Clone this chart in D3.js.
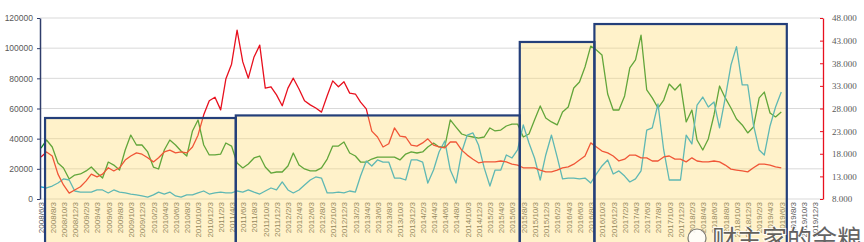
<!DOCTYPE html>
<html>
<head>
<meta charset="utf-8">
<script src="https://cdn.jsdelivr.net/npm/d3@7"></script>
<style>
  body { margin: 0; background: #fff; }
  svg { display: block; }
</style>
</head>
<body>
<div id="chart"></div>
<script>
// 每月数据，从 2008/6/3 开始
const startDate = "2008/6/3";

// 红线（右轴）
const redValues = [
  17.3, 18.4, 17.5, 13.5, 11.1, 9.3, 10.0, 10.7, 12.0, 13.5,
  12.9, 13.5, 14.9, 14.2, 14.9, 16.6, 17.5, 18.2, 17.9, 17.1,
  16.2, 17.1, 18.4, 18.8, 18.2, 18.4, 18.2, 19.5, 22.1, 26.6,
  29.7, 30.5, 27.7, 34.5, 37.8, 45.3, 38.3, 34.7, 39.4, 42.0,
  32.5, 32.8, 31.0, 28.6, 32.5, 34.7, 32.3, 29.7, 28.8, 28.1,
  27.2, 30.8, 34.1, 32.8, 33.9, 31.4, 31.2, 29.4, 27.9, 23.0,
  21.7, 19.5, 20.2, 23.7, 21.9, 21.7, 19.9, 19.7, 20.4, 21.3,
  19.9, 19.5, 19.3, 20.6, 20.6, 18.8, 17.7, 16.8, 16.0, 16.2,
  16.2, 16.2, 16.4, 16.2, 15.7, 15.5, 14.9, 14.9, 14.9, 14.4,
  14.0, 14.0, 14.4, 14.9, 15.1, 15.7, 16.6, 17.5, 20.4, 19.5,
  18.6, 18.2, 17.5, 16.4, 16.8, 17.7, 17.7, 17.1, 17.1, 16.4,
  16.4, 17.3, 17.5, 16.8, 16.8, 16.2, 17.1, 16.4, 16.2, 16.2,
  16.4, 16.2, 15.5, 14.6, 14.4, 14.2, 14.0, 14.9, 15.7, 15.7,
  15.5, 15.1, 14.9
];

// 绿线（左轴）
const greenValues = [
  33800, 39100, 34500, 23900, 20600, 13300, 15900, 16600, 18600, 21200,
  17200, 13900, 24500, 22500, 19200, 32500, 42400, 35800, 35800, 31200,
  21200, 19900, 32500, 39100, 35800, 31800, 28500, 45100, 52400, 35800,
  29200, 29200, 29800, 37100, 35100, 23900, 20600, 23200, 27200, 28500,
  21200, 17200, 17900, 17900, 21900, 30500, 22500, 19900, 18600, 18600,
  20600, 26500, 35100, 35100, 37800, 30500, 28500, 24500, 24500, 26500,
  27800, 27800, 27800, 27800, 25900, 29800, 31200, 30500, 31200, 34500,
  37100, 34500, 34500, 52400, 47700, 43100, 41800, 41100, 40400, 41100,
  47100, 45100, 45700, 48400, 49700, 49700, 41100, 43100, 52400, 61700,
  53700, 51100, 49100, 57700, 61000, 73600, 77600, 87500, 101400, 98800,
  95500, 69600, 59000, 59000, 68300, 86900, 92200, 108700, 72300, 67000,
  60300, 65600, 76200, 72300, 76200, 51100, 59000, 39100, 32500, 39800,
  55700, 74900, 67000, 60300, 53000, 49100, 43800, 47700, 67000, 70900,
  57000, 54400, 57700
];

// 青线（左轴）
const cyanValues = [
  8000, 7300, 8600, 10600, 13300, 12600, 5300, 4600, 4600, 4600,
  6000, 6000, 4000, 6000, 4600, 4000, 3300, 2700, 2000, 1300,
  2700, 4600, 3300, 4600, 2000, 1300, 2700, 2700, 4000, 5300,
  3300, 4000, 4600, 4000, 4000, 5300, 4600, 6000, 4600, 3300,
  5300, 7300, 6000, 11300, 6000, 4000, 6000, 9300, 12600, 14600,
  13900, 4000, 4000, 4600, 4000, 5300, 4600, 15200, 25200, 21900,
  25900, 24500, 24500, 13900, 13900, 12600, 25900, 25900, 24500, 10600,
  19200, 31200, 38500, 19200, 10600, 31200, 42400, 43800, 35800, 20600,
  8600, 19200, 19200, 29200, 27200, 32500, 49100, 37100, 27200, 12600,
  29200, 42400, 27800, 13300, 13900, 13900, 13300, 13900, 10600, 16600,
  21900, 25900, 16600, 18600, 15200, 11300, 13300, 18600, 45700, 47100,
  63000, 32500, 12600, 12600, 12600, 42400, 36500, 62300, 67600, 61000,
  64300, 47100, 67000, 88800, 101000, 75600, 75600, 49100, 32500, 29200,
  48400, 61000, 70900
];

const leftTicks = [0, 20000, 40000, 60000, 80000, 100000, 120000];
const rightTicks = [8, 13, 18, 23, 28, 33, 38, 43, 48];

// 黄色方框（阶段）
const periodStart = ["2008/6/25", "2011/4/26", "2015/7/15", "2016/8/23"];
const periodEnd = ["2011/4/26", "2015/7/15", "2016/8/23", "2019/7/3"];
const periodTop = [53700, 55400, 104100, 116000];

const width = 864;
const height = 242;

const parse = d3.timeParse("%Y/%m/%d");
const start = parse(startDate);
const dates = redValues.map((d, i) => d3.timeMonth.offset(start, i));
const tickDates = d3.range(0, 139, 2).map(i => d3.timeMonth.offset(start, i));

const x = d3.scaleTime()
  .domain([start, d3.timeMonth.offset(start, 138)])
  .range([41, 815]);
const yL = d3.scaleLinear().domain([0, 120000]).range([199, 18]);
const yR = d3.scaleLinear().domain([8, 48]).range([199, 18]);

const svg = d3.select("#chart").append("svg")
  .attr("width", width)
  .attr("height", height);

svg.append("rect").attr("width", width).attr("height", height).attr("fill", "#fff");

// 网格线
svg.append("g").selectAll("line")
  .data(leftTicks)
  .enter().append("line")
  .attr("x1", 40).attr("x2", 823)
  .attr("y1", d => yL(d)).attr("y2", d => yL(d))
  .attr("stroke", "#d9d9d9")
  .attr("stroke-width", 1);

// X 轴标签
const fmt = d3.timeFormat("%Y/%-m/%-d");
const xAxis = svg.append("g")
  .attr("transform", "translate(0,199)")
  .call(d3.axisBottom(x).tickValues(tickDates).tickFormat(fmt).tickSize(0));
xAxis.select(".domain").remove();
xAxis.selectAll("text")
  .attr("transform", "rotate(-90)")
  .attr("x", -3)
  .attr("y", 0)
  .attr("dy", "0.35em")
  .attr("text-anchor", "end")
  .attr("fill", "#595959")
  .style("font-family", "Liberation Sans, Arial, sans-serif")
  .style("font-size", "8px");

// 折线
const lineL = d3.line().x((d, i) => x(dates[i])).y(d => yL(d));
const lineR = d3.line().x((d, i) => x(dates[i])).y(d => yR(d));

svg.append("path").datum(greenValues)
  .attr("d", lineL).attr("fill", "none")
  .attr("stroke", "#0e8a22").attr("stroke-width", 1.3).attr("stroke-linejoin", "round");
svg.append("path").datum(cyanValues)
  .attr("d", lineL).attr("fill", "none")
  .attr("stroke", "#0aa6dc").attr("stroke-width", 1.3).attr("stroke-linejoin", "round");
svg.append("path").datum(redValues)
  .attr("d", lineR).attr("fill", "none")
  .attr("stroke", "#e8101e").attr("stroke-width", 1.3).attr("stroke-linejoin", "round");

// 半透明黄色方框
const boxes = periodStart.map((s, i) => ({
  x0: x(parse(s)), x1: x(parse(periodEnd[i])), top: yL(periodTop[i])
}));

svg.append("g").selectAll("rect")
  .data(boxes)
  .enter().append("rect")
  .attr("x", d => d.x0)
  .attr("y", d => d.top)
  .attr("width", d => d.x1 - d.x0)
  .attr("height", d => height + 10 - d.top)
  .attr("fill", "#ffd966")
  .attr("fill-opacity", 0.35);

svg.append("g").selectAll("rect")
  .data(boxes)
  .enter().append("rect")
  .attr("x", d => d.x0)
  .attr("y", d => d.top)
  .attr("width", d => d.x1 - d.x0)
  .attr("height", d => height + 10 - d.top)
  .attr("fill", "none")
  .attr("stroke", "#243f7a")
  .attr("stroke-width", 2.2);

// 左轴
const axL = svg.append("g")
  .attr("transform", "translate(40,0)")
  .call(d3.axisLeft(yL).tickValues(leftTicks).tickSizeInner(3).tickSizeOuter(0)
    .tickPadding(4).tickFormat(d3.format("d")));
axL.select(".domain").attr("stroke", "#2f3d6b").attr("stroke-width", 1.5);
axL.selectAll(".tick line").attr("stroke", "#2f3d6b");
axL.selectAll("text")
  .attr("fill", "#595959")
  .style("font-family", "Liberation Sans, Arial, sans-serif")
  .style("font-size", "8.5px");

// 右轴
const axR = svg.append("g")
  .attr("transform", "translate(823,0)")
  .call(d3.axisRight(yR).tickValues(rightTicks).tickSizeInner(-3).tickSizeOuter(0)
    .tickPadding(9).tickFormat(d3.format(".3f")));
axR.select(".domain").attr("stroke", "#e8101e").attr("stroke-width", 1.3);
axR.selectAll(".tick line").attr("stroke", "#e8101e");
axR.selectAll("text")
  .attr("fill", "#595959")
  .style("font-family", "Liberation Serif, Times New Roman, serif")
  .style("font-size", "9px");

// 水印
const wm = svg.append("g").attr("opacity", 0.85);
wm.append("circle")
  .attr("cx", 697).attr("cy", 238).attr("r", 9)
  .attr("fill", "#fff").attr("stroke", "#666").attr("stroke-width", 1.2);
wm.append("text")
  .attr("x", 712).attr("y", 248)
  .attr("fill", "#4a4a4a")
  .attr("stroke", "#fff").attr("stroke-width", 2)
  .attr("paint-order", "stroke")
  .style("font-family", "Noto Sans CJK SC, sans-serif")
  .style("font-size", "25px")
  .text("财主家的余粮");
</script>
</body>
</html>
